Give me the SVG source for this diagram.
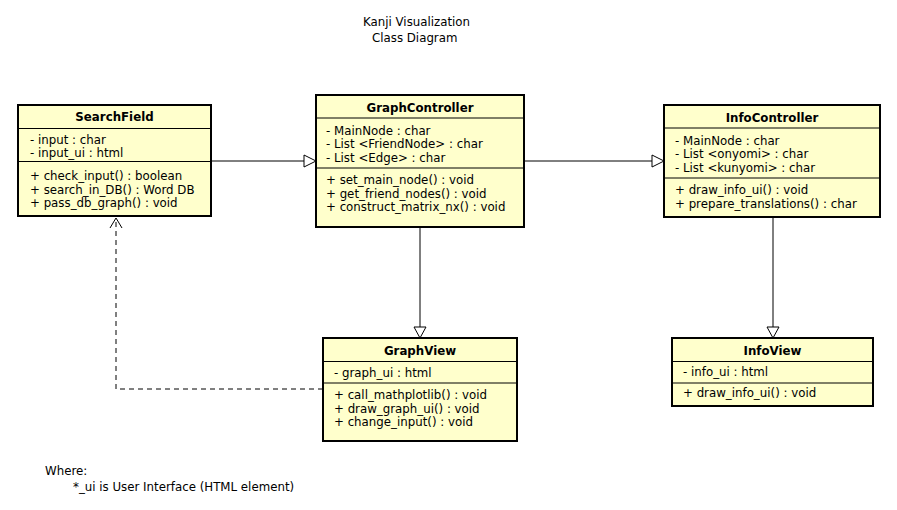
<svg xmlns="http://www.w3.org/2000/svg" width="897" height="510" viewBox="0 0 897 510">
<style>
  text { font-family: "DejaVu Sans", "Liberation Sans", sans-serif; font-size: 11.8px; fill: #000; }
  .title { font-weight: bold; text-anchor: middle; }
  .box { fill: #FFFFCC; stroke: #000; stroke-width: 2; }
  .div { stroke: #000; stroke-width: 1; }
  .conn { fill: none; stroke: #000; stroke-width: 1; }
  .head { fill: #fff; stroke: #000; stroke-width: 1; }
  .dash { fill: none; stroke: #000; stroke-width: 1; stroke-dasharray: 5,4; }
</style>
<rect width="897" height="510" fill="#fff"/>
<g id="caption">
  <text x="363" y="26">Kanji Visualization</text>
  <text x="372" y="42">Class Diagram</text>
</g>
<g id="connectors">
  <line class="conn" x1="211" y1="161" x2="304" y2="161"/>
  <polygon class="head" points="304,155 316,161 304,167"/>
  <line class="conn" x1="524" y1="161" x2="652" y2="161"/>
  <polygon class="head" points="652,155 664,161 652,167"/>
  <line class="conn" x1="420" y1="227" x2="420" y2="327"/>
  <polygon class="head" points="414,327 420,338 426,327"/>
  <line class="conn" x1="773" y1="217" x2="773" y2="327"/>
  <polygon class="head" points="767,327 773,338 779,327"/>
  <path class="dash" d="M323,389 H116 V218"/>
  <polyline class="conn" points="110,228 116,218 122,228"/>
</g>
<g id="SearchField">
  <rect class="box" x="18" y="105" width="193" height="111"/>
  <line class="div" x1="18" y1="128.5" x2="211" y2="128.5"/>
  <line class="div" x1="18" y1="161.5" x2="211" y2="161.5"/>
  <text class="title" x="114.5" y="121">SearchField</text>
  <text x="30" y="143.5">- input : char</text>
  <text x="30" y="157">- input_ui : html</text>
  <text x="30" y="180">+ check_input() : boolean</text>
  <text x="30" y="193.5">+ search_in_DB() : Word DB</text>
  <text x="30" y="207">+ pass_db_graph() : void</text>
</g>
<g id="GraphController">
  <rect class="box" x="316" y="95" width="208" height="132"/>
  <line class="div" x1="316" y1="118" x2="524" y2="118"/>
  <line class="div" x1="316" y1="168" x2="524" y2="168"/>
  <text class="title" x="420" y="112">GraphController</text>
  <text x="326" y="134.5">- MainNode : char</text>
  <text x="326" y="148">- List &lt;FriendNode&gt; : char</text>
  <text x="326" y="161.5">- List &lt;Edge&gt; : char</text>
  <text x="326" y="184">+ set_main_node() : void</text>
  <text x="326" y="197.5">+ get_friend_nodes() : void</text>
  <text x="326" y="211">+ construct_matrix_nx() : void</text>
</g>
<g id="InfoController">
  <rect class="box" x="664" y="105" width="216" height="112"/>
  <line class="div" x1="664" y1="128" x2="880" y2="128"/>
  <line class="div" x1="664" y1="178" x2="880" y2="178"/>
  <text class="title" x="772" y="122">InfoController</text>
  <text x="675" y="144.5">- MainNode : char</text>
  <text x="675" y="158">- List &lt;onyomi&gt; : char</text>
  <text x="675" y="171.5">- List &lt;kunyomi&gt; : char</text>
  <text x="675" y="194">+ draw_info_ui() : void</text>
  <text x="675" y="207.5">+ prepare_translations() : char</text>
</g>
<g id="GraphView">
  <rect class="box" x="323" y="338" width="194" height="103"/>
  <line class="div" x1="323" y1="361.5" x2="517" y2="361.5"/>
  <line class="div" x1="323" y1="383" x2="517" y2="383"/>
  <text class="title" x="420" y="355">GraphView</text>
  <text x="334" y="376.5">- graph_ui : html</text>
  <text x="334" y="399">+ call_mathplotlib() : void</text>
  <text x="334" y="412.5">+ draw_graph_ui() : void</text>
  <text x="334" y="426">+ change_input() : void</text>
</g>
<g id="InfoView">
  <rect class="box" x="672" y="338" width="201" height="68"/>
  <line class="div" x1="672" y1="361.5" x2="873" y2="361.5"/>
  <line class="div" x1="672" y1="383" x2="873" y2="383"/>
  <text class="title" x="772.5" y="355">InfoView</text>
  <text x="683" y="376">- info_ui : html</text>
  <text x="683" y="397">+ draw_info_ui() : void</text>
</g>
<g id="note">
  <text x="45" y="475">Where:</text>
  <text x="73" y="491">*_ui is User Interface (HTML element)</text>
</g>
</svg>
